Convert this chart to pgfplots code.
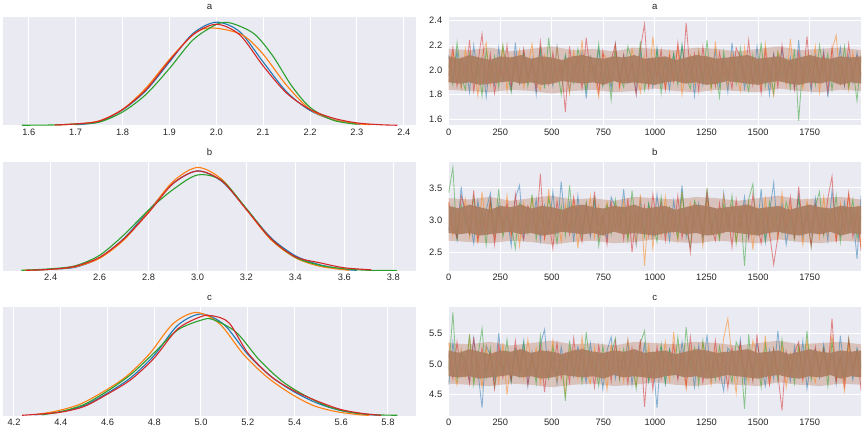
\documentclass[border=0pt]{standalone}
\usepackage{fontspec}
\setmainfont{Liberation Sans}
\usepackage{pgfplots}
\pgfplotsset{compat=1.18}
\definecolor{C0}{HTML}{1F77B4}
\definecolor{C1}{HTML}{FF7F0E}
\definecolor{C2}{HTML}{2CA02C}
\definecolor{C3}{HTML}{D62728}
\definecolor{sbbg}{HTML}{EAEAF2}
\definecolor{tk}{HTML}{262626}
\definecolor{core}{HTML}{AA7C5F}
\definecolor{halo}{HTML}{C4937A}
\pgfplotsset{
  sb/.style={scale only axis, anchor=north west,
    axis background/.style={fill=sbbg},
    axis line style={draw=none}, tick style={draw=none},
    grid=major, major grid style={white, line width=1pt},
    /pgf/number format/assume math mode=true,
    tick label style={font=\fontsize{9.3}{10}\selectfont, text=tk},
    every axis title/.style={at={(0.5,1)}, anchor=base, yshift=7pt, inner sep=0pt, font=\fontsize{9.6}{10}\selectfont, text=tk},
    scaled ticks=false},
  kde/.style={sb, width=413pt, height=108.5pt, ymin=0, ytick=\empty,
    xticklabel style={/pgf/number format/.cd, fixed, fixed zerofill, precision=1}},
  trace/.style={sb, width=412.3pt, height=108.5pt, xmin=0, xmax=1999,
    xtick={0,250,...,1750},
    xticklabel style={/pgf/number format/.cd, 1000 sep={}},
    yticklabel style={xshift=-3pt, /pgf/number format/.cd, fixed, fixed zerofill, precision=1}},
  kl/.style={line width=1.1pt, smooth, no marks},
  tl/.style={line width=0.85pt, opacity=0.5, no marks},
  band/.style={fill=core, draw=none, fill opacity=0.9, no marks},
  outer/.style={fill=halo, draw=none, fill opacity=0.45, no marks},
  /pgfplots/table/trtab/.style={x expr=\coordindex*20.2, y index=0, header=false, row sep=\\}
}
\begin{document}
\begin{tikzpicture}
\useasboundingbox (0,0) rectangle (864pt,432pt);
% ---------- a : KDE
\begin{axis}[kde, at={(3pt,415pt)}, title={a}, xmin=1.545, xmax=2.426, ymax=4.19,
  xtick={1.6,1.7,...,2.41}]
\addplot[kl, C0] coordinates {(1.700,0.03)(1.75,0.14)(1.80,0.60)(1.85,1.35)(1.90,2.45)(1.95,3.55)(2.00,3.99)(2.05,3.62)(2.10,2.45)(2.15,1.30)(2.20,0.58)(2.25,0.22)(2.308,0.04)};
\addplot[kl, C1] coordinates {(1.656,0.02)(1.70,0.06)(1.75,0.18)(1.80,0.62)(1.85,1.45)(1.90,2.55)(1.95,3.50)(1.98,3.76)(2.02,3.70)(2.06,3.45)(2.10,2.75)(2.15,1.55)(2.20,0.62)(2.25,0.22)(2.30,0.07)(2.33,0.03)};
\addplot[kl, C2] coordinates {(1.585,0.01)(1.65,0.02)(1.70,0.06)(1.75,0.13)(1.80,0.52)(1.85,1.20)(1.90,2.20)(1.95,3.30)(2.00,3.90)(2.03,3.96)(2.08,3.55)(2.12,2.70)(2.16,1.55)(2.20,0.70)(2.25,0.20)(2.30,0.05)};
\addplot[kl, C3] coordinates {(1.655,0.02)(1.70,0.06)(1.75,0.17)(1.80,0.62)(1.85,1.38)(1.90,2.50)(1.95,3.50)(2.00,3.91)(2.05,3.50)(2.10,2.30)(2.15,1.25)(2.20,0.62)(2.25,0.28)(2.30,0.10)(2.35,0.03)(2.386,0.01)};
\end{axis}
% ---------- a : trace
\begin{axis}[trace, at={(448.7pt,415pt)}, title={a}, ymin=1.552, ymax=2.427, ytick={1.6,1.8,2.0,2.2,2.4}]
\addplot[outer] coordinates {(0,2.17)(100,2.16)(200,2.18)(300,2.15)(400,2.17)(500,2.19)(600,2.16)(700,2.17)(800,2.15)(900,2.18)(1000,2.17)(1100,2.16)(1200,2.18)(1300,2.17)(1400,2.15)(1500,2.17)(1600,2.19)(1700,2.16)(1800,2.17)(1900,2.18)(2000,2.16)
 (2000,1.83)(1900,1.84)(1800,1.82)(1700,1.83)(1600,1.85)(1500,1.82)(1400,1.83)(1300,1.84)(1200,1.82)(1100,1.83)(1000,1.85)(900,1.83)(800,1.82)(700,1.84)(600,1.83)(500,1.81)(400,1.83)(300,1.84)(200,1.82)(100,1.83)(0,1.84)};
\addplot[tl, C0] table[trtab] {2.12\\1.92\\2.15\\1.86\\2.06\\1.82\\2.20\\1.95\\2.10\\1.78\\2.08\\1.88\\2.18\\1.91\\2.04\\1.84\\2.22\\1.90\\2.13\\1.94\\2.09\\1.80\\2.16\\1.89\\2.07\\1.87\\2.19\\1.93\\2.11\\1.83\\2.05\\1.91\\2.14\\1.77\\2.10\\1.94\\2.17\\1.88\\2.08\\1.85\\2.21\\1.92\\2.12\\1.90\\2.06\\1.81\\2.15\\1.96\\2.09\\1.86\\2.18\\1.89\\2.07\\1.84\\2.13\\1.91\\2.20\\1.94\\2.10\\1.79\\2.14\\1.88\\2.05\\1.92\\2.16\\1.87\\2.09\\1.82\\2.22\\1.93\\2.11\\1.85\\2.06\\1.90\\2.19\\1.88\\2.08\\1.80\\2.13\\1.95\\2.17\\1.91\\2.10\\1.86\\2.24\\1.89\\2.07\\1.83\\2.12\\1.92\\2.15\\1.78\\2.09\\1.94\\2.18\\1.87\\2.11\\1.90\\2.14\\1.93\\};
\addplot[tl, C1] table[trtab] {1.90\\2.14\\2.02\\1.85\\2.17\\1.93\\2.08\\1.79\\2.11\\2.22\\1.88\\2.05\\1.94\\2.19\\1.83\\2.10\\1.97\\2.16\\1.86\\2.03\\2.21\\1.91\\1.84\\2.12\\2.00\\1.89\\2.18\\1.95\\2.07\\1.81\\2.15\\1.92\\2.24\\1.87\\2.04\\1.96\\1.78\\2.13\\2.09\\1.90\\2.20\\1.85\\2.06\\1.93\\2.17\\2.01\\1.82\\2.11\\1.88\\2.27\\1.94\\2.08\\1.86\\2.14\\1.91\\2.19\\1.80\\2.03\\2.12\\1.89\\2.16\\1.95\\2.09\\1.84\\2.23\\1.92\\2.05\\1.87\\2.13\\1.98\\1.83\\2.18\\1.90\\2.10\\2.02\\1.86\\2.21\\1.94\\1.79\\2.15\\2.07\\1.88\\2.25\\1.93\\2.04\\1.85\\2.12\\1.97\\2.19\\1.82\\2.10\\1.91\\2.16\\2.28\\1.89\\2.06\\1.84\\2.14\\1.95\\2.08\\};
\addplot[tl, C2] table[trtab] {2.04\\1.88\\2.22\\1.95\\1.84\\2.13\\1.91\\2.07\\1.79\\2.16\\1.93\\2.11\\1.86\\2.20\\1.98\\1.82\\2.09\\1.90\\2.15\\1.87\\2.06\\1.94\\2.18\\1.85\\2.26\\1.92\\2.03\\1.80\\2.12\\1.96\\1.89\\2.17\\2.01\\1.83\\2.10\\1.93\\2.21\\1.87\\2.05\\1.76\\2.14\\1.95\\1.86\\2.19\\2.08\\1.90\\2.23\\1.84\\2.02\\1.92\\2.16\\1.81\\2.09\\1.97\\2.13\\1.88\\2.20\\1.94\\1.85\\2.11\\2.05\\1.91\\2.24\\1.86\\2.00\\1.78\\2.15\\1.93\\2.07\\1.89\\2.18\\1.96\\1.83\\2.12\\1.90\\2.22\\1.87\\2.04\\1.81\\2.14\\1.94\\2.09\\1.85\\2.17\\1.59\\2.06\\1.92\\2.11\\1.88\\2.20\\1.97\\2.13\\1.84\\2.08\\1.91\\2.19\\1.86\\2.03\\1.75\\2.12\\};
\addplot[tl, C3] table[trtab] {1.95\\2.18\\1.87\\2.09\\1.92\\2.24\\1.83\\2.06\\2.29\\1.89\\2.13\\1.81\\2.02\\1.94\\2.20\\1.86\\2.11\\1.90\\2.17\\1.93\\2.07\\1.84\\2.23\\1.96\\1.88\\2.14\\1.91\\2.05\\1.66\\2.19\\1.92\\2.10\\1.85\\2.26\\1.97\\2.03\\1.82\\2.15\\1.90\\2.08\\2.21\\1.87\\2.12\\1.93\\2.04\\1.80\\2.17\\2.37\\1.86\\2.09\\1.94\\2.16\\1.84\\2.11\\1.91\\2.22\\1.89\\2.38\\1.95\\2.13\\1.83\\2.19\\1.92\\2.08\\1.87\\2.14\\1.96\\2.01\\1.85\\2.18\\2.10\\1.93\\2.24\\1.88\\2.05\\1.81\\2.16\\1.90\\2.12\\1.86\\2.20\\1.94\\2.07\\1.84\\2.15\\1.91\\2.27\\1.87\\2.09\\1.95\\2.13\\1.82\\2.18\\1.90\\2.06\\1.88\\2.21\\1.93\\2.11\\1.96\\};
\addplot[band] coordinates {(0,2.11)(50,2.09)(100,2.12)(150,2.10)(200,2.08)(250,2.11)(300,2.10)(350,2.12)(400,2.09)(450,2.11)(500,2.10)(550,2.08)(600,2.11)(650,2.12)(700,2.10)(750,2.09)(800,2.11)(850,2.10)(900,2.12)(950,2.09)(1000,2.10)(1050,2.11)(1100,2.08)(1150,2.10)(1200,2.12)(1250,2.11)(1300,2.09)(1350,2.10)(1400,2.11)(1450,2.12)(1500,2.09)(1550,2.10)(1600,2.11)(1650,2.08)(1700,2.10)(1750,2.12)(1800,2.10)(1850,2.09)(1900,2.11)(1950,2.10)(2000,2.11)
 (2000,1.89)(1950,1.90)(1900,1.88)(1850,1.91)(1800,1.89)(1750,1.90)(1700,1.88)(1650,1.89)(1600,1.91)(1550,1.90)(1500,1.88)(1450,1.89)(1400,1.90)(1350,1.91)(1300,1.89)(1250,1.88)(1200,1.90)(1150,1.89)(1100,1.91)(1050,1.90)(1000,1.88)(950,1.89)(900,1.90)(850,1.89)(800,1.91)(750,1.88)(700,1.90)(650,1.89)(600,1.90)(550,1.91)(500,1.89)(450,1.88)(400,1.90)(350,1.89)(300,1.91)(250,1.90)(200,1.89)(150,1.88)(100,1.90)(50,1.89)(0,1.90)};
\end{axis}
% ---------- b : KDE
\begin{axis}[kde, at={(3pt,269.7pt)}, title={b}, xmin=2.205, xmax=3.893, ymax=2.163,
  xtick={2.4,2.6,...,3.81}]
\addplot[kl, C0] coordinates {(2.33,0.01)(2.40,0.03)(2.50,0.07)(2.60,0.26)(2.70,0.65)(2.80,1.20)(2.90,1.74)(3.00,1.99)(3.10,1.78)(3.20,1.23)(3.30,0.66)(3.40,0.30)(3.50,0.12)(3.60,0.03)(3.65,0.01)};
\addplot[kl, C1] coordinates {(2.29,0.01)(2.40,0.03)(2.50,0.08)(2.60,0.25)(2.70,0.62)(2.80,1.18)(2.90,1.78)(3.00,2.06)(3.10,1.82)(3.20,1.22)(3.30,0.62)(3.40,0.26)(3.50,0.09)(3.62,0.01)};
\addplot[kl, C2] coordinates {(2.28,0.01)(2.40,0.04)(2.50,0.10)(2.60,0.31)(2.70,0.72)(2.80,1.21)(2.90,1.62)(3.00,1.91)(3.10,1.80)(3.20,1.24)(3.30,0.64)(3.40,0.27)(3.50,0.11)(3.60,0.04)(3.70,0.01)(3.815,0.005)};
\addplot[kl, C3] coordinates {(2.30,0.01)(2.40,0.03)(2.50,0.09)(2.60,0.27)(2.70,0.64)(2.80,1.16)(2.90,1.74)(3.00,1.99)(3.10,1.79)(3.20,1.22)(3.30,0.64)(3.40,0.28)(3.50,0.16)(3.60,0.06)(3.71,0.02)};
\end{axis}
% ---------- b : trace
\begin{axis}[trace, at={(448.7pt,269.7pt)}, title={b}, ymin=2.213, ymax=3.897, ytick={2.5,3.0,3.5}]
\addplot[outer] coordinates {(0,3.34)(100,3.32)(200,3.36)(300,3.30)(400,3.34)(500,3.38)(600,3.32)(700,3.34)(800,3.30)(900,3.36)(1000,3.34)(1100,3.32)(1200,3.36)(1300,3.34)(1400,3.30)(1500,3.34)(1600,3.38)(1700,3.32)(1800,3.34)(1900,3.36)(2000,3.32)
 (2000,2.66)(1900,2.68)(1800,2.64)(1700,2.66)(1600,2.70)(1500,2.64)(1400,2.66)(1300,2.68)(1200,2.64)(1100,2.66)(1000,2.70)(900,2.66)(800,2.64)(700,2.68)(600,2.66)(500,2.62)(400,2.66)(300,2.68)(200,2.64)(100,2.66)(0,2.68)};
\addplot[tl, C0] table[trtab] {2.84\\3.20\\2.70\\3.52\\2.94\\3.06\\2.64\\3.30\\2.80\\3.16\\3.42\\2.74\\3.24\\2.86\\3.08\\2.60\\3.34\\3.54\\2.72\\3.18\\2.88\\3.32\\2.68\\3.22\\2.82\\3.44\\2.78\\3.60\\2.90\\3.26\\2.66\\3.38\\2.84\\3.16\\2.74\\3.28\\2.92\\3.02\\2.70\\3.36\\3.20\\2.86\\3.48\\2.76\\3.10\\2.62\\3.32\\2.80\\3.24\\2.72\\3.40\\2.88\\3.14\\2.68\\3.30\\2.82\\3.54\\2.74\\3.18\\2.90\\3.26\\2.64\\3.36\\2.80\\3.12\\2.76\\3.42\\2.86\\3.22\\2.92\\2.90\\3.36\\2.74\\3.18\\2.84\\3.48\\2.66\\3.12\\3.58\\2.78\\3.26\\2.62\\3.04\\2.88\\3.40\\2.72\\3.22\\2.80\\3.34\\2.86\\3.14\\2.68\\3.46\\2.92\\2.76\\3.28\\2.82\\3.10\\2.40\\3.38\\};
\addplot[tl, C1] table[trtab] {3.28\\2.76\\3.10\\2.84\\3.32\\2.74\\3.18\\2.64\\3.44\\2.86\\3.22\\2.70\\3.12\\2.80\\3.38\\2.76\\3.16\\2.60\\3.26\\2.90\\3.34\\2.82\\3.20\\2.72\\3.48\\2.78\\3.14\\2.66\\3.24\\2.84\\3.30\\2.56\\3.18\\2.88\\3.36\\2.74\\3.22\\2.80\\3.28\\2.86\\3.24\\2.84\\3.30\\2.72\\3.12\\2.64\\3.40\\2.29\\3.20\\2.56\\3.16\\2.76\\3.36\\2.82\\3.08\\2.68\\3.44\\2.80\\3.26\\2.88\\3.18\\2.60\\3.32\\2.78\\3.14\\2.74\\3.38\\2.86\\3.22\\2.66\\3.10\\2.82\\3.28\\2.54\\3.20\\2.88\\3.34\\2.76\\3.16\\2.70\\3.42\\2.84\\3.24\\2.80\\3.12\\2.62\\3.30\\2.92\\3.18\\2.72\\3.36\\2.78\\3.14\\2.68\\3.26\\2.82\\3.40\\2.88\\3.20\\2.58\\};
\addplot[tl, C2] table[trtab] {3.42\\3.82\\2.68\\3.24\\3.00\\2.78\\3.36\\2.90\\3.14\\2.62\\3.30\\2.84\\3.48\\2.74\\3.08\\2.92\\2.56\\3.26\\3.18\\2.80\\3.40\\2.70\\3.12\\2.86\\3.34\\3.02\\2.64\\3.22\\2.76\\3.54\\2.88\\3.16\\2.72\\3.28\\2.82\\3.38\\2.60\\3.06\\3.24\\2.78\\3.32\\2.90\\3.18\\2.68\\3.46\\2.84\\3.10\\2.74\\3.26\\2.96\\2.66\\3.36\\2.80\\3.20\\3.04\\2.72\\3.42\\2.88\\2.58\\3.30\\3.14\\2.76\\3.50\\2.86\\3.08\\2.70\\3.24\\2.94\\3.38\\2.64\\3.20\\2.29\\3.32\\3.56\\2.78\\3.12\\2.68\\3.28\\2.90\\3.16\\2.80\\3.28\\3.04\\2.70\\3.34\\2.86\\3.16\\2.58\\3.22\\3.44\\2.76\\3.10\\2.88\\3.38\\2.66\\3.20\\2.94\\3.32\\2.72\\3.06\\};
\addplot[tl, C3] table[trtab] {3.28\\2.90\\2.72\\3.38\\3.16\\2.80\\3.46\\2.68\\3.04\\2.84\\3.32\\2.62\\3.18\\2.94\\3.26\\2.76\\3.40\\2.88\\2.70\\3.22\\3.10\\2.82\\3.72\\2.72\\3.00\\2.56\\3.30\\2.86\\3.14\\2.78\\3.36\\2.92\\2.66\\3.24\\2.80\\3.44\\2.74\\3.08\\2.62\\3.28\\2.88\\3.18\\2.70\\3.34\\2.50\\3.12\\2.84\\3.22\\2.76\\3.40\\2.94\\3.26\\2.68\\3.16\\2.82\\3.38\\2.72\\3.06\\2.50\\3.24\\3.08\\2.76\\3.44\\2.90\\2.68\\3.26\\2.82\\3.14\\2.58\\3.32\\2.86\\3.22\\2.72\\3.40\\2.96\\2.64\\3.18\\2.80\\2.31\\2.74\\3.12\\2.88\\3.36\\2.70\\3.52\\2.84\\3.06\\2.60\\3.24\\2.92\\2.78\\3.34\\3.68\\2.66\\3.20\\2.86\\3.42\\2.74\\3.10\\2.52\\};
\addplot[band] coordinates {(0,3.22)(50,3.18)(100,3.24)(150,3.20)(200,3.16)(250,3.22)(300,3.20)(350,3.24)(400,3.18)(450,3.22)(500,3.20)(550,3.16)(600,3.22)(650,3.24)(700,3.20)(750,3.18)(800,3.22)(850,3.20)(900,3.24)(950,3.18)(1000,3.20)(1050,3.22)(1100,3.16)(1150,3.20)(1200,3.24)(1250,3.22)(1300,3.18)(1350,3.20)(1400,3.22)(1450,3.24)(1500,3.18)(1550,3.20)(1600,3.22)(1650,3.16)(1700,3.20)(1750,3.24)(1800,3.20)(1850,3.18)(1900,3.22)(1950,3.20)(2000,3.22)
 (2000,2.78)(1950,2.80)(1900,2.76)(1850,2.82)(1800,2.78)(1750,2.80)(1700,2.76)(1650,2.78)(1600,2.82)(1550,2.80)(1500,2.76)(1450,2.78)(1400,2.80)(1350,2.82)(1300,2.78)(1250,2.76)(1200,2.80)(1150,2.78)(1100,2.82)(1050,2.80)(1000,2.76)(950,2.78)(900,2.80)(850,2.78)(800,2.82)(750,2.76)(700,2.80)(650,2.78)(600,2.80)(550,2.82)(500,2.78)(450,2.76)(400,2.80)(350,2.78)(300,2.82)(250,2.80)(200,2.78)(150,2.76)(100,2.80)(50,2.78)(0,2.80)};
\end{axis}
% ---------- c : KDE
\begin{axis}[kde, at={(3pt,124.7pt)}, title={c}, xmin=4.153, xmax=5.92, ymax=2.1,
  xtick={4.2,4.4,...,5.81}]
\addplot[kl, C0] coordinates {(4.29,0.02)(4.40,0.08)(4.50,0.20)(4.60,0.44)(4.70,0.74)(4.80,1.17)(4.90,1.75)(5.00,1.97)(5.10,1.76)(5.20,1.19)(5.30,0.76)(5.40,0.46)(5.50,0.24)(5.60,0.10)(5.70,0.03)(5.77,0.01)};
\addplot[kl, C1] coordinates {(4.30,0.03)(4.38,0.09)(4.48,0.22)(4.58,0.46)(4.68,0.76)(4.78,1.20)(4.88,1.78)(4.98,2.00)(5.08,1.78)(5.18,1.20)(5.28,0.76)(5.38,0.44)(5.48,0.20)(5.58,0.08)(5.68,0.02)(5.72,0.01)};
\addplot[kl, C2] coordinates {(4.32,0.02)(4.40,0.08)(4.50,0.22)(4.60,0.48)(4.70,0.80)(4.80,1.22)(4.90,1.66)(5.00,1.85)(5.05,1.865)(5.15,1.62)(5.25,1.08)(5.35,0.66)(5.45,0.38)(5.55,0.17)(5.65,0.06)(5.75,0.02)(5.84,0.01)};
\addplot[kl, C3] coordinates {(4.235,0.01)(4.30,0.03)(4.40,0.07)(4.50,0.18)(4.60,0.42)(4.70,0.70)(4.80,1.12)(4.90,1.68)(5.00,1.92)(5.05,1.935)(5.12,1.80)(5.20,1.22)(5.30,0.76)(5.40,0.48)(5.50,0.28)(5.60,0.12)(5.70,0.04)(5.77,0.01)};
\end{axis}
% ---------- c : trace
\begin{axis}[trace, at={(448.7pt,124.7pt)}, title={c}, ymin=4.155, ymax=5.923, ytick={4.5,5.0,5.5}]
\addplot[outer] coordinates {(0,5.34)(100,5.32)(200,5.36)(300,5.30)(400,5.34)(500,5.38)(600,5.32)(700,5.34)(800,5.30)(900,5.36)(1000,5.34)(1100,5.32)(1200,5.36)(1300,5.34)(1400,5.30)(1500,5.34)(1600,5.38)(1700,5.32)(1800,5.34)(1900,5.36)(2000,5.32)
 (2000,4.66)(1900,4.68)(1800,4.64)(1700,4.66)(1600,4.70)(1500,4.64)(1400,4.66)(1300,4.68)(1200,4.64)(1100,4.66)(1000,4.70)(900,4.66)(800,4.64)(700,4.68)(600,4.66)(500,4.62)(400,4.66)(300,4.68)(200,4.64)(100,4.66)(0,4.68)};
\addplot[tl, C0] table[trtab] {4.66\\5.36\\4.80\\5.20\\5.04\\4.72\\5.42\\4.88\\4.29\\5.30\\5.14\\4.76\\5.50\\4.86\\5.08\\4.70\\5.24\\4.94\\5.38\\4.64\\5.20\\4.82\\5.32\\5.56\\4.78\\5.12\\4.68\\5.28\\4.90\\5.16\\4.80\\5.28\\5.04\\4.70\\5.34\\4.86\\5.16\\4.58\\5.22\\5.44\\4.76\\5.10\\4.88\\5.38\\4.66\\5.20\\4.94\\5.32\\4.72\\5.06\\4.28\\5.28\\4.68\\5.24\\5.00\\4.78\\5.36\\4.90\\5.14\\4.62\\5.30\\4.84\\5.48\\4.74\\5.08\\4.92\\4.56\\5.26\\5.18\\4.80\\5.40\\4.70\\5.12\\4.86\\5.34\\5.02\\4.64\\5.22\\4.76\\5.54\\4.88\\5.16\\4.72\\5.28\\4.82\\5.38\\4.60\\5.06\\5.24\\4.78\\5.32\\4.90\\5.18\\4.68\\5.46\\4.84\\5.10\\4.74\\5.26\\4.96\\};
\addplot[tl, C1] table[trtab] {5.36\\4.92\\4.66\\5.24\\4.80\\5.44\\4.74\\5.08\\4.62\\5.28\\4.88\\5.18\\4.70\\5.34\\4.50\\5.12\\4.84\\5.22\\4.76\\5.40\\4.94\\5.26\\4.68\\5.16\\4.82\\5.38\\4.72\\5.06\\4.50\\5.24\\5.08\\4.76\\5.44\\4.90\\4.68\\5.26\\4.82\\5.14\\4.58\\5.32\\4.86\\5.22\\4.72\\5.40\\4.96\\4.64\\5.18\\4.80\\5.30\\4.74\\5.12\\4.88\\5.36\\4.70\\5.52\\4.84\\5.06\\4.60\\5.24\\4.92\\4.78\\5.34\\5.02\\4.66\\5.20\\4.86\\5.42\\5.74\\5.10\\4.52\\5.28\\4.90\\4.72\\5.38\\5.16\\4.80\\5.46\\4.68\\5.04\\4.84\\5.32\\4.62\\5.18\\4.94\\5.26\\4.76\\5.40\\4.88\\4.70\\5.22\\5.10\\4.82\\5.48\\4.72\\5.00\\4.56\\5.30\\4.86\\5.14\\4.78\\};
\addplot[tl, C2] table[trtab] {4.90\\5.84\\4.74\\5.18\\4.84\\5.48\\4.66\\5.12\\5.58\\4.78\\5.26\\4.62\\5.04\\4.88\\5.40\\4.72\\5.22\\4.80\\5.34\\4.86\\5.14\\4.68\\5.46\\4.92\\4.76\\5.28\\4.82\\5.10\\4.40\\5.38\\4.84\\5.20\\4.70\\5.52\\4.94\\5.06\\4.64\\5.30\\4.80\\5.16\\5.42\\4.74\\5.24\\4.86\\5.08\\4.60\\5.34\\5.54\\4.72\\5.18\\4.88\\5.32\\4.68\\5.22\\4.82\\5.44\\4.78\\5.60\\4.90\\5.26\\4.66\\5.38\\4.84\\5.16\\4.74\\5.28\\4.92\\5.02\\4.70\\5.36\\5.20\\4.27\\5.48\\4.76\\5.10\\4.62\\5.32\\4.80\\5.24\\4.72\\5.40\\4.88\\5.14\\4.68\\5.30\\4.82\\5.54\\4.74\\5.18\\4.90\\5.26\\4.64\\5.36\\4.80\\5.12\\4.76\\5.42\\4.86\\5.22\\4.92\\};
\addplot[tl, C3] table[trtab] {5.16\\4.76\\5.36\\4.82\\5.08\\4.68\\5.44\\4.80\\5.26\\4.88\\5.18\\4.60\\5.32\\4.78\\5.14\\4.74\\5.38\\4.86\\5.22\\4.66\\5.10\\4.82\\5.28\\4.54\\5.20\\4.88\\5.34\\4.76\\5.16\\4.70\\5.42\\4.84\\5.24\\4.80\\5.12\\4.62\\5.30\\4.92\\5.18\\4.72\\5.36\\4.78\\5.14\\4.68\\5.26\\4.82\\5.40\\4.30\\5.20\\4.58\\5.28\\4.76\\5.10\\4.84\\5.32\\4.74\\5.18\\4.64\\5.44\\4.86\\5.22\\4.70\\5.12\\4.80\\5.38\\4.76\\5.16\\4.60\\5.26\\4.90\\5.34\\4.82\\5.20\\4.72\\5.48\\4.78\\5.14\\4.66\\5.24\\4.84\\4.24\\5.20\\4.82\\5.18\\5.36\\4.74\\5.22\\4.80\\5.28\\4.86\\5.24\\4.84\\5.74\\4.72\\5.12\\4.64\\5.40\\4.90\\5.20\\4.56\\};
\addplot[band] coordinates {(0,5.22)(50,5.18)(100,5.24)(150,5.20)(200,5.16)(250,5.22)(300,5.20)(350,5.24)(400,5.18)(450,5.22)(500,5.20)(550,5.16)(600,5.22)(650,5.24)(700,5.20)(750,5.18)(800,5.22)(850,5.20)(900,5.24)(950,5.18)(1000,5.20)(1050,5.22)(1100,5.16)(1150,5.20)(1200,5.24)(1250,5.22)(1300,5.18)(1350,5.20)(1400,5.22)(1450,5.24)(1500,5.18)(1550,5.20)(1600,5.22)(1650,5.16)(1700,5.20)(1750,5.24)(1800,5.20)(1850,5.18)(1900,5.22)(1950,5.20)(2000,5.22)
 (2000,4.78)(1950,4.80)(1900,4.76)(1850,4.82)(1800,4.78)(1750,4.80)(1700,4.76)(1650,4.78)(1600,4.82)(1550,4.80)(1500,4.76)(1450,4.78)(1400,4.80)(1350,4.82)(1300,4.78)(1250,4.76)(1200,4.80)(1150,4.78)(1100,4.82)(1050,4.80)(1000,4.76)(950,4.78)(900,4.80)(850,4.78)(800,4.82)(750,4.76)(700,4.80)(650,4.78)(600,4.80)(550,4.82)(500,4.78)(450,4.76)(400,4.80)(350,4.78)(300,4.82)(250,4.80)(200,4.78)(150,4.76)(100,4.80)(50,4.78)(0,4.80)};
\end{axis}
\end{tikzpicture}
\end{document}
